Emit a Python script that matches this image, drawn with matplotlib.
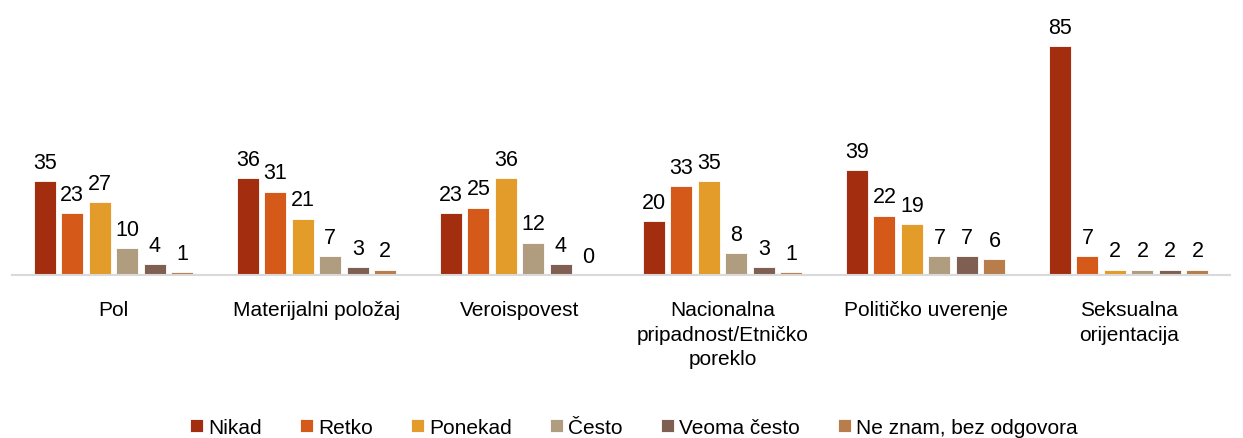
import matplotlib
matplotlib.use("Agg")
import matplotlib.pyplot as plt
import numpy as np

plt.rcParams['font.family'] = ['Liberation Sans', 'DejaVu Sans']

categories = ["Pol", "Materijalni položaj", "Veroispovest",
              "Nacionalna\npripadnost/Etničko\nporeklo", "Političko uverenje",
              "Seksualna\norijentacija"]
series_names = ["Nikad", "Retko", "Ponekad", "Često", "Veoma često", "Ne znam, bez odgovora"]
nikad = [35, 36, 23, 20, 39, 85]
retko = [23, 31, 25, 33, 22, 7]
ponekad = [27, 21, 36, 35, 19, 2]
cesto = [10, 7, 12, 8, 7, 2]
veoma_cesto = [4, 3, 4, 3, 7, 2]
ne_znam = [1, 2, 0, 1, 6, 2]
series = [nikad, retko, ponekad, cesto, veoma_cesto, ne_znam]
colors = ["#A32D0F", "#D55A1A", "#E39B2A", "#B09D80", "#7E5F52", "#B87D4B"]

fig = plt.figure(figsize=(12.43, 4.39), dpi=100)
ax = fig.add_axes([0.0097, 0.3713, 0.98, 0.6127])

x = np.arange(len(categories))
n = len(series)
step = 0.1355
width = 0.108
for i, (vals, c, name) in enumerate(zip(series, colors, series_names)):
    pos = x + (i - (n - 1) / 2) * step
    bars = ax.bar(pos, vals, width=width, color=c, label=name,
                  edgecolor='white', linewidth=0.6)
    for b, v in zip(bars, vals):
        ax.annotate(str(v), (b.get_x() + b.get_width() / 2, v),
                    xytext=(0, 6), textcoords='offset points',
                    ha='center', va='bottom', fontsize=15.5, color='black')

ax.set_xlim(-0.5, len(categories) - 0.5)
ax.set_ylim(0, 100)
ax.set_yticks([])
ax.set_xticks(x)
ax.set_xticklabels(categories, fontsize=15, linespacing=1.38)
ax.tick_params(axis='x', length=0, pad=18)
for s in ['top', 'right', 'left']:
    ax.spines[s].set_visible(False)
ax.spines['bottom'].set_color('#D9D9D9')
ax.spines['bottom'].set_linewidth(1.5)

leg = fig.legend(loc='center', bbox_to_anchor=(0.51, 0.024), ncol=6, frameon=False,
                 fontsize=15, handlelength=0.6, handleheight=0.6,
                 handletextpad=0.25, columnspacing=1.85)

fig.savefig("out.png", dpi=100)
